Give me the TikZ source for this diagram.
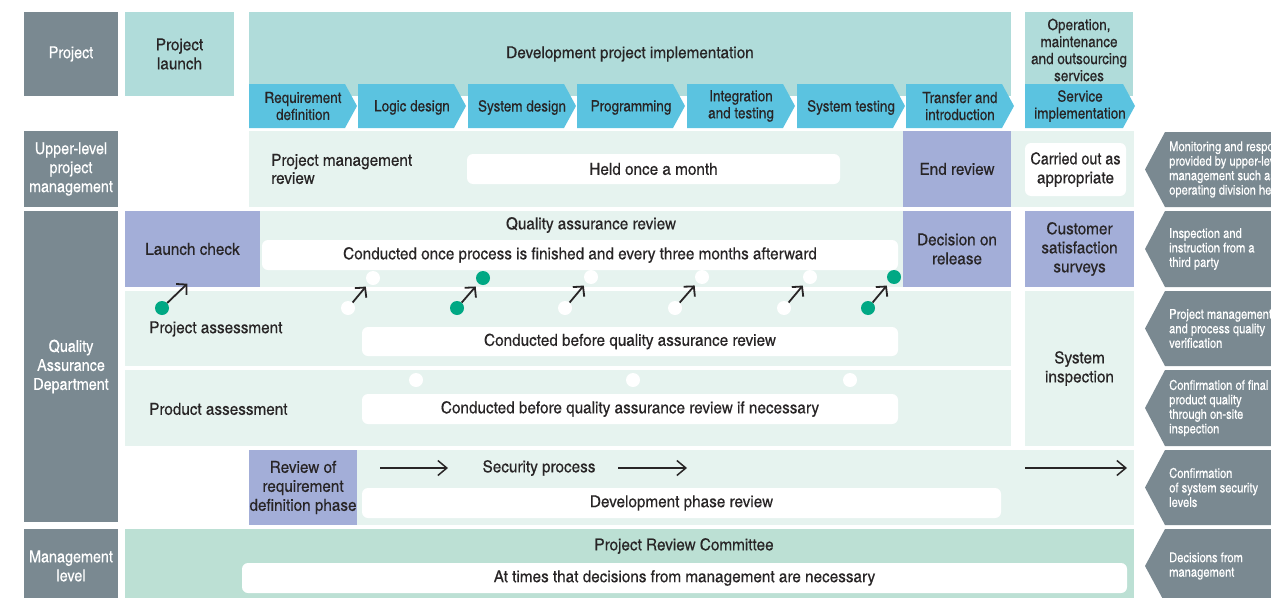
\documentclass[tikz,border=0pt]{standalone}
\usepackage{fontspec}
\setmainfont{texgyreheroscn}[Extension=.otf,UprightFont=*-regular,BoldFont=*-bold,FakeStretch=1.06,FakeBold=0.3]
\newfontfamily\wfont{texgyreheroscn}[Extension=.otf,UprightFont=*-regular,BoldFont=*-bold,FakeStretch=1.13,FakeBold=0.3]
\newfontfamily\sfont{texgyreheroscn}[Extension=.otf,UprightFont=*-regular,BoldFont=*-bold,FakeBold=0.2]
\usetikzlibrary{arrows.meta}
\definecolor{qgray}{RGB}{122,137,145}
\definecolor{hteal}{RGB}{176,220,218}
\definecolor{cblue}{RGB}{91,195,224}
\definecolor{lband}{RGB}{230,243,239}
\definecolor{purp}{RGB}{163,174,216}
\definecolor{mband}{RGB}{188,224,212}
\definecolor{dgreen}{RGB}{0,168,132}
\definecolor{ink}{RGB}{40,37,38}
\tikzset{
 base/.style={inner sep=0pt, outer sep=0pt, anchor=north west, align=center, text=ink, font=\wfont\fontsize{16.5}{19}\selectfont},
 graybox/.style={base, fill=qgray, text=white, font=\rmfamily\fontsize{16.5}{19}\selectfont},
 tealbox/.style={base, fill=hteal},
 bandbox/.style={base, fill=lband},
 purpbox/.style={base, fill=purp},
 mgbox/.style={base, fill=mband},
 whitebox/.style={base, fill=white, rounded corners=6pt},
 lbl/.style={inner sep=0pt, align=center, text=ink, font=\wfont\fontsize{16.5}{19}\selectfont},
 chevtxt/.style={inner sep=0pt, align=center, text=ink, font=\rmfamily\fontsize{15.5}{17}\selectfont},
 sidetxt/.style={inner sep=0pt, anchor=west, align=left, text=white, font=\sfont\fontsize{13.6}{14.5}\selectfont},
 dotw/.style={circle, fill=white, minimum size=14pt, inner sep=0pt},
 dotg/.style={circle, fill=dgreen, minimum size=14pt, inner sep=0pt},
 uparrow/.style={line width=1.8pt, -{Straight Barb[length=7pt,width=15pt]}, shorten >=4pt, draw=ink},
 secarrow/.style={line width=1.5pt, -{Straight Barb[length=9pt,width=15pt]}, draw=ink},
}
\newcommand{\boxat}[7]{\node[#1, minimum width={(#5-#3)*1pt}, minimum height={(#6-#4)*1pt}] (#2) at (#3,#4) {#7};}
\newcommand{\chev}[4]{\fill[cblue] (#1,84) -- (#2,84) -- ({#2+12},106) -- (#2,128) -- (#1,128) -- cycle;
 \node[chevtxt, anchor=center] (#3) at ({(#1+#2+12)/2},#4) {#4};}
\renewcommand{\chev}[5]{\fill[cblue] (#1,84) -- (#2,84) -- ({#2+12},106) -- (#2,128) -- (#1,128) -- cycle;
 \node[chevtxt, anchor=center] (#3) at ({(#1+#2+12)/2},#4) {#5};}
\newcommand{\sidebox}[4]{\fill[qgray] (1165,#1) -- (1280,#1) -- (1280,#2) -- (1165,#2) -- (1145,{(#1+#2)/2}) -- cycle;
 \node[sidetxt] (#3) at (1169,{(#1+#2)/2}) {#4};}
\begin{document}
\begin{tikzpicture}[x=1pt,y=-1pt]
\useasboundingbox (0,0) rectangle (1271,597);
\clip (0,0) rectangle (1271,597);
% left column
\boxat{graybox}{projL}{24}{12}{118}{96}{Project}
\boxat{graybox}{upperL}{24}{131}{118}{207}{Upper-level\\project\\management}
\boxat{graybox}{qaL}{24}{211}{118}{522}{Quality\\Assurance\\Department}
\boxat{graybox}{mgmtL}{24}{529}{118}{603}{Management\\level}
% top row
\boxat{tealbox}{launch}{125}{12}{234}{96}{Project\\launch}
\boxat{tealbox}{dev}{249}{12}{1011}{96}{}
\node[lbl] (devtxt) at (630,54) {Development project implementation};
\boxat{tealbox}{oper}{1025}{12}{1133}{96}{}
\node[lbl, font=\rmfamily\fontsize{15.5}{17}\selectfont] (opertxt) at (1079,50) {Operation,\\maintenance\\and outsourcing\\services};
% chevrons
\chev{249}{345}{ch1}{106}{Requirement\\definition}
\chev{358}{454}{ch2}{107.5}{Logic design}
\chev{468}{564}{ch3}{107.5}{System design}
\chev{577}{673}{ch4}{107.5}{Programming}
\chev{687}{783}{ch5}{106}{Integration\\and testing}
\chev{797}{893}{ch6}{107.5}{System testing}
\chev{906}{1002}{ch7}{106}{Transfer and\\introduction}
\chev{1025}{1123}{ch8}{106}{Service\\implementation}
% upper-level row
\boxat{bandbox}{pmband}{249}{131}{1134}{207}{}
\boxat{purpbox}{endrev}{903}{131}{1011}{207}{End review}
\node[lbl, anchor=west, align=left, font=\wfont\fontsize{16.5}{18}\selectfont] (pmtxt) at (271,169) {Project management\\review};
\boxat{whitebox}{held}{467}{154}{840}{184}{Held once a month}
\boxat{whitebox}{carried}{1025}{143}{1126}{196}{\rmfamily\fontsize{16.5}{18}\selectfont Carried out as\\appropriate}
% quality assurance review
\boxat{bandbox}{qaband}{125}{211}{1011}{287}{}
\boxat{purpbox}{launchchk}{125}{211}{260}{287}{Launch check}
\node[lbl] (qatitle) at (591,225) {Quality assurance review};
\boxat{whitebox}{qawhite}{262}{240}{898}{270}{Conducted once process is finished and every three months afterward}
\boxat{purpbox}{decision}{903}{211}{1011}{287}{Decision on\\release}
\boxat{purpbox}{cust}{1025}{211}{1134}{287}{Customer\\satisfaction\\surveys}
% project assessment
\boxat{bandbox}{paband}{125}{291}{1011}{366}{}
\node[lbl, anchor=west] (patxt) at (149,329) {Project assessment};
\boxat{whitebox}{pawhite}{362}{327}{898}{356}{Conducted before quality assurance review}
% product assessment
\boxat{bandbox}{prband}{125}{370}{1011}{446}{}
\node[lbl, anchor=west] (prtxt) at (149,409) {Product assessment};
\boxat{whitebox}{prwhite}{362}{394}{898}{424}{Conducted before quality assurance review if necessary}
\boxat{bandbox}{sysband}{1025}{291}{1134}{446}{System\\inspection}
% security
\boxat{bandbox}{secband}{357}{450}{1134}{525}{}
\boxat{purpbox}{reqrev}{249}{450}{357}{525}{Review of\\requirement\\definition phase}
\node[lbl] (secproc) at (539,468) {Security process};
\boxat{whitebox}{devwhite}{362}{488}{1001}{518}{Development phase review}
\coordinate (s1a) at (380,468); \coordinate (s1b) at (448,468);
\coordinate (s2a) at (618,468); \coordinate (s2b) at (687,468);
\coordinate (s3a) at (1025,468); \coordinate (s3b) at (1127,468);
\draw[secarrow] (s1a) -- (s1b);
\draw[secarrow] (s2a) -- (s2b);
\draw[secarrow] (s3a) -- (s3b);
% management
\boxat{mgbox}{mgband}{125}{529}{1134}{603}{}
\node[lbl] (prc) at (684,546) {Project Review Committee};
\boxat{whitebox}{mgwhite}{242}{563}{1127}{593}{At times that decisions from management are necessary}
% right column
\sidebox{132}{207}{r1}{Monitoring and response\\provided by upper-level\\management such as\\operating division heads}
\sidebox{211}{287}{r2}{Inspection and\\instruction from a\\third party}
\sidebox{291}{366}{r3}{Project management\\and process quality\\verification}
\sidebox{370}{446}{r4}{Confirmation of final\\product quality\\through on-site\\inspection}
\sidebox{450}{525}{r5}{Confirmation\\of system security\\levels}
\sidebox{529}{603}{r6}{Decisions from\\management}
% dots
\node[dotg] (pl1) at (162,308) {};
\coordinate (pu1) at (188,283);
\node[dotw] (pl2) at (348,308) {};
\node[dotw] (pu2) at (373,278) {};
\node[dotg] (pl3) at (457,308) {};
\node[dotg] (pu3) at (483,278) {};
\node[dotw] (pl4) at (565,308) {};
\node[dotw] (pu4) at (591,277) {};
\node[dotw] (pl5) at (675,308) {};
\node[dotw] (pu5) at (702,277) {};
\node[dotw] (pl6) at (784,308) {};
\node[dotw] (pu6) at (810,277) {};
\node[dotg] (pl7) at (868,308) {};
\node[dotg] (pu7) at (894,277) {};
\node[dotw] (pd1) at (416,380) {};
\node[dotw] (pd2) at (633,380) {};
\node[dotw] (pd3) at (850,380) {};
\draw[uparrow, shorten >=1pt] (pl1) -- (pu1);
\draw[uparrow] (pl2) -- (pu2);
\draw[uparrow] (pl3) -- (pu3);
\draw[uparrow] (pl4) -- (pu4);
\draw[uparrow] (pl5) -- (pu5);
\draw[uparrow] (pl6) -- (pu6);
\draw[uparrow] (pl7) -- (pu7);
\end{tikzpicture}
\end{document}
